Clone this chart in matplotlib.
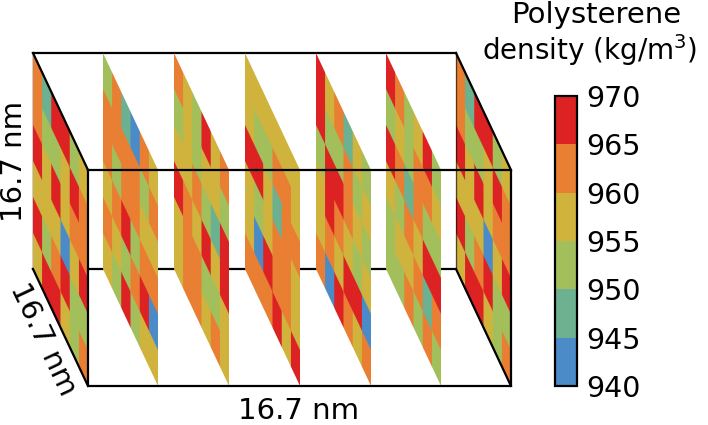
import matplotlib
matplotlib.use('Agg')
import matplotlib.pyplot as plt
from matplotlib.colors import ListedColormap, BoundaryNorm
from matplotlib.transforms import Affine2D
import numpy as np

# Density per slab, one list per column (rows run top to bottom).
wall = [[962, 962, 968, 958, 968, 958],
        [948, 952, 958, 958, 952, 968],
        [968, 952, 968, 958, 962, 968],
        [968, 958, 958, 942, 968, 958],
        [952, 968, 962, 958, 952, 952],
        [958, 962, 962, 968, 952, 962]]
slab1 = [[952, 962, 962, 958, 962, 958],
         [962, 962, 952, 962, 958, 952],
         [948, 962, 962, 968, 952, 968],
         [942, 962, 962, 952, 962, 952],
         [962, 952, 958, 962, 968, 958],
         [958, 962, 958, 962, 942, 958]]
slab2 = [[962, 952, 958, 968, 958, 958],
         [958, 958, 958, 962, 962, 962],
         [952, 952, 962, 958, 962, 962],
         [968, 958, 952, 968, 952, 958],
         [958, 958, 948, 958, 952, 962],
         [962, 952, 968, 968, 958, 958]]
slab3 = [[958, 958, 968, 958, 958, 962],
         [958, 952, 968, 952, 942, 962],
         [958, 952, 958, 958, 968, 962],
         [958, 962, 948, 962, 962, 968],
         [958, 962, 962, 962, 962, 958],
         [958, 958, 962, 958, 958, 968]]
slab4 = [[968, 968, 952, 958, 958, 962],
         [958, 952, 968, 968, 962, 942],
         [962, 952, 968, 962, 958, 968],
         [948, 962, 962, 958, 968, 962],
         [958, 952, 958, 952, 968, 958],
         [952, 958, 952, 958, 942, 962]]
slab5 = [[968, 952, 968, 958, 952, 952],
         [962, 958, 962, 952, 958, 952],
         [952, 952, 948, 962, 958, 962],
         [958, 962, 962, 958, 962, 952],
         [968, 962, 952, 968, 948, 962],
         [952, 958, 952, 968, 962, 952]]
slabs = [wall, slab1, slab2, slab3, slab4, slab5, wall]
slab_x = [33, 103, 174, 245, 316, 386, 456]

levels = [940, 945, 950, 955, 960, 965, 970]
colors = ['#4a8bc8', '#6cb190', '#a3bf5b', '#d0b33d', '#e97f33', '#dd2223']
box_label = '16.7 nm'

plt.rcParams['mathtext.default'] = 'regular'
cmap = ListedColormap(colors)
norm = BoundaryNorm(levels, cmap.N)

fig = plt.figure(figsize=(7.08, 4.25), dpi=100)
ax = fig.add_axes([0, 0, 1, 1])
ax.axis('off')

# Oblique box: depth goes right 55 and down 117, height is 216.
dx, dy, height = 55, 117, 216
left, right, top = 33, 456, 53

# Each slab is a 6x6 image sheared into the depth direction. The cells are
# repeated so hanning softens the edges by about a pixel, as in the original.
for x0, slab in zip(slab_x, slabs):
    shear = Affine2D(np.array([[dx / 6, 0, x0], [dy / 6, height / 6, top], [0, 0, 1]]))
    cells = np.repeat(np.repeat(np.array(slab).T, 30, axis=0), 9, axis=1)
    im = ax.imshow(cells, cmap=cmap, norm=norm, extent=(0, 6, 6, 0),
                   interpolation='hanning', interpolation_stage='rgba',
                   aspect='auto', zorder=2, transform=shear + ax.transData)

ax.set_xlim(0, 708)
ax.set_ylim(425, 0)

# Back edges go behind the slabs, the front ones over them.
ax.plot([left, right], [top, top], color='black', lw=1.6, zorder=1)
ax.plot([left, right], [top + height, top + height], color='black', lw=1.6, zorder=1)
ax.plot([left, left], [top, top + height], color='black', lw=1, zorder=1)
ax.plot([right, right], [top, top + height], color='black', lw=1, zorder=3, alpha=.6)
ax.plot([left + dx, right + dx, right + dx, left + dx, left + dx],
        [top + dy, top + dy, top + dy + height, top + dy + height, top + dy],
        color='black', lw=1.6, zorder=3)
for x in [left, right]:
    for y in [top, top + height]:
        ax.plot([x, x + dx], [y, y + dy], color='black', lw=1.6, zorder=3)

ax.text(299, 411, box_label, fontsize=21, ha='center', va='center')
ax.text(14, 161, box_label, fontsize=21, ha='center', va='center', rotation=90)
ax.text(43, 339, box_label, fontsize=21, ha='center', va='center', rotation=-64.8,
        rotation_mode='anchor')
ax.text(596, 15, 'Polysterene', fontsize=21, ha='center', va='center')
ax.text(590, 50, 'density (kg/m$^3$)', fontsize=20, ha='center', va='center')

cax = fig.add_axes([555 / 708, 1 - 386 / 425, 22 / 708, 290 / 425])
cb = fig.colorbar(im, cax=cax, ticks=levels, spacing='proportional')
cb.ax.tick_params(length=0, labelsize=20.5, pad=7)
cb.outline.set_linewidth(1.6)

plt.savefig('out.png', dpi=100)
